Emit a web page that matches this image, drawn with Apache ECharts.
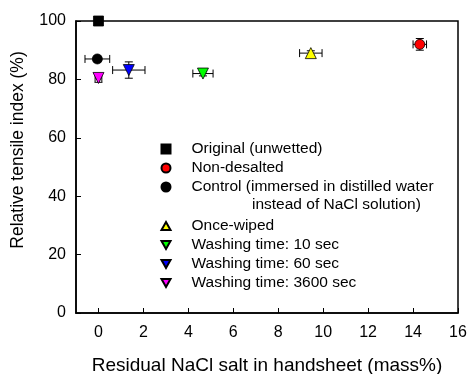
<!DOCTYPE html>
<html>
<head>
<meta charset="utf-8">
<script src="https://cdn.jsdelivr.net/npm/echarts@6/dist/echarts.min.js"></script>
<style>html,body{margin:0;padding:0;background:#fff}#c{width:469px;height:374px}</style>
</head>
<body>
<div id="c"></div>
<script>
const seriesNames = ['Original (unwetted)', 'Non-desalted', 'Control (immersed in distilled water', 'Once-wiped', 'Washing time: 10 sec', 'Washing time: 60 sec', 'Washing time: 3600 sec'];
const saltX = [0, 14.3, -0.05, 9.45, 4.65, 1.35, 0];
const tensileY = [100, 92.0, 87.0, 89.0, 82.0, 83.2, 80.5];
const xErr = [0, 0.3, 0.55, 0.5, 0.45, 0.72, 0.15];
const yErr = [0, 2.0, 1.0, 0.8, 0.8, 2.8, 1.5];
const colors = ['#000000', '#ff0000', '#000000', '#ffff00', '#00ff00', '#0000ff', '#ff00ff'];
const xTicks = [0, 2, 4, 6, 8, 10, 12, 14, 16];
const yTicks = [0, 20, 40, 60, 80, 100];
const controlLine2 = 'instead of NaCl solution)';

const DOWN = 'path://M0,0L10,0L5,8.66Z';
const UP = 'path://M5,0L10,8.66L0,8.66Z';
const symbols = ['rect', 'circle', 'circle', UP, DOWN, DOWN, DOWN];
const sizes = [10, 10, 10, 11, 11, 11, 11];
const FONT = 'Liberation Sans, Arial, sans-serif';

const chart = echarts.init(document.getElementById('c'));

const errData = saltX.map((x, i) => [x, tensileY[i], xErr[i], yErr[i]]);

const scatterSeries = seriesNames.map((n, i) => ({
  name: n,
  type: 'scatter',
  symbol: symbols[i],
  symbolSize: sizes[i],
  itemStyle: { color: colors[i], borderColor: '#000', borderWidth: 0.8, opacity: 1 },
  data: [[saltX[i], tensileY[i]]],
  z: 5
}));

const errSeries = {
  type: 'custom',
  silent: true,
  z: 3,
  clip: false,
  renderItem: function (params, api) {
    const x = api.value(0), y = api.value(1), ex = api.value(2), ey = api.value(3);
    const cap = 4;
    const children = [];
    const st = { stroke: '#000', lineWidth: 1 };
    if (ex > 0) {
      const a = api.coord([x - ex, y]), b = api.coord([x + ex, y]);
      children.push({ type: 'line', shape: { x1: a[0], y1: a[1], x2: b[0], y2: b[1] }, style: st });
      children.push({ type: 'line', shape: { x1: a[0], y1: a[1] - cap, x2: a[0], y2: a[1] + cap }, style: st });
      children.push({ type: 'line', shape: { x1: b[0], y1: b[1] - cap, x2: b[0], y2: b[1] + cap }, style: st });
    }
    if (ey > 0) {
      const a = api.coord([x, y - ey]), b = api.coord([x, y + ey]);
      children.push({ type: 'line', shape: { x1: a[0], y1: a[1], x2: b[0], y2: b[1] }, style: st });
      children.push({ type: 'line', shape: { x1: a[0] - cap, y1: a[1], x2: a[0] + cap, y2: a[1] }, style: st });
      children.push({ type: 'line', shape: { x1: b[0] - cap, y1: b[1], x2: b[0] + cap, y2: b[1] }, style: st });
    }
    return { type: 'group', children: children };
  },
  data: errData
};

const legendCommon = {
  orient: 'vertical',
  left: 160.5,
  padding: 0,
  itemGap: 0,
  itemWidth: 9,
  itemHeight: 9,
  textStyle: { fontFamily: FONT, fontSize: 15.5, color: '#000', lineHeight: 19, padding: [0, 0, 0, 16] },
  selectedMode: false
};

chart.setOption({
  animation: false,
  backgroundColor: '#fff',
  grid: { left: 76, right: 11, top: 21, bottom: 61, outerBoundsMode: 'none', containLabel: false, show: true, borderColor: '#000', borderWidth: 1.5, backgroundColor: 'transparent' },
  xAxis: {
    type: 'value', min: -1, max: 16,
    name: 'Residual NaCl salt in handsheet (mass%)',
    nameLocation: 'middle', nameGap: 43,
    nameTextStyle: { fontFamily: FONT, fontSize: 19, color: '#000' },
    axisLine: { show: true, onZero: false, lineStyle: { color: '#000', width: 1.5 } },
    axisTick: { show: true, inside: true, length: 5, customValues: xTicks, lineStyle: { color: '#000', width: 1 } },
    axisLabel: { customValues: xTicks, fontFamily: FONT, fontSize: 16, color: '#000', margin: 12 },
    splitLine: { show: false }
  },
  yAxis: {
    type: 'value', min: 0, max: 100, interval: 20,
    axisLine: { show: true, onZero: false, lineStyle: { color: '#000', width: 1.5 } },
    axisTick: { show: true, inside: true, length: 5, lineStyle: { color: '#000', width: 1 } },
    axisLabel: { fontFamily: FONT, fontSize: 16, color: '#000', margin: 10 },
    splitLine: { show: false }
  },
  legend: [
    Object.assign({}, legendCommon, { top: 139.5, data: seriesNames.slice(0, 3) }),
    Object.assign({}, legendCommon, { top: 216.5, data: seriesNames.slice(3) })
  ],
  graphic: [
    { type: 'text', left: 252, top: 197, style: { text: controlLine2, font: '15.5px ' + FONT, fill: '#000' } },
    { type: 'text', x: 18, y: 150, rotation: Math.PI / 2, style: { text: 'Relative tensile index (%)', font: '17.5px ' + FONT, fill: '#000', align: 'center', verticalAlign: 'middle' } }
  ],
  series: [errSeries].concat(scatterSeries)
});
</script>
</body>
</html>
